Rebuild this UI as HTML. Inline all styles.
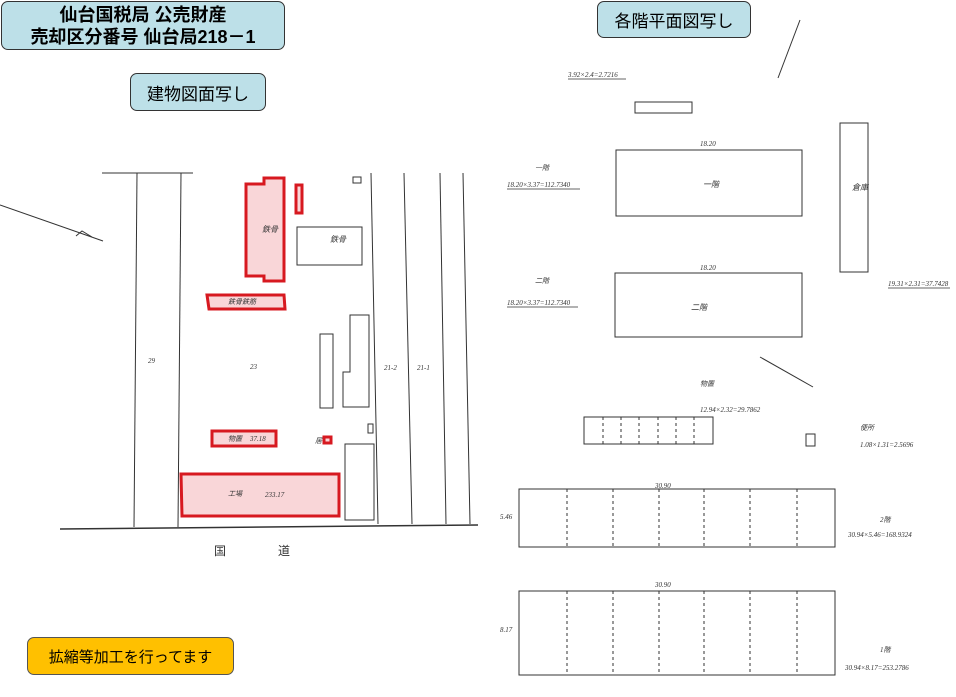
<!DOCTYPE html>
<html><head><meta charset="utf-8"><style>
body{margin:0;width:956px;height:697px;background:#fff;position:relative;overflow:hidden;font-family:"Liberation Sans","Noto Sans CJK JP",sans-serif}
.b{position:absolute;background:#bde0e8;border:1.5px solid #333;border-radius:7px;box-sizing:border-box;display:flex;align-items:center;justify-content:center;text-align:center;color:#000}
svg{position:absolute;left:0;top:0}
svg text{font-family:"Liberation Serif","Noto Sans CJK JP",serif;font-style:italic;fill:#333}
</style></head><body>
<svg width="956" height="697" viewBox="0 0 956 697" stroke="#333" fill="none" stroke-width="1">
<!-- left plan -->
<line x1="102" y1="173" x2="193" y2="173"/>
<line x1="137" y1="173" x2="134" y2="527"/>
<line x1="181" y1="173" x2="178" y2="527"/>
<line x1="0" y1="205" x2="103" y2="241"/>
<path d="M76 236 L82 231 L92 237"/>
<line x1="371" y1="173" x2="378" y2="524"/>
<line x1="404" y1="173" x2="412" y2="524"/>
<line x1="440" y1="173" x2="446" y2="524"/>
<line x1="463" y1="173" x2="470" y2="524"/>
<line x1="60" y1="529" x2="478" y2="525" stroke-width="1.5"/>
<rect x="353" y="177" width="8" height="6"/>
<rect x="297" y="227" width="65" height="38"/>
<rect x="320" y="334" width="13" height="74"/>
<path d="M350 315 H369 V407 H343 V372 H350 Z"/>
<rect x="368" y="424" width="5" height="9"/>
<rect x="345" y="444" width="29" height="76"/>
<g stroke="#d71920" stroke-width="3" fill="#f9d6d8">
<path d="M246 184 H264 V178 H284 V281 H264 V276 H246 Z"/>
<rect x="296" y="185" width="6" height="28"/>
<path d="M207 295 H284 L285 309 H209 Z"/>
<rect x="212" y="431" width="64" height="15"/>
<rect x="324" y="437" width="7" height="6"/>
<path d="M181 474 H339 V516 H182 Z"/>
</g>
<g stroke="none" font-size="7">
<text x="148" y="363">29</text><text x="250" y="369">23</text>
<text x="384" y="370">21-2</text><text x="417" y="370">21-1</text>
<text x="262" y="232" font-size="8">鉄骨</text><text x="330" y="242" font-size="8">鉄骨</text>
<text x="228" y="304">鉄骨鉄筋</text><text x="228" y="441">物置</text><text x="250" y="441">37.18</text>
<text x="228" y="496">工場</text><text x="265" y="497">233.17</text>
<text x="315" y="443">居</text>
</g>
<g stroke="none" font-size="12" font-style="normal"><text x="214" y="555" style="font-style:normal">国</text><text x="278" y="555" style="font-style:normal">道</text></g>
<!-- right sheet -->
<line x1="778" y1="78" x2="800" y2="20"/>
<line x1="760" y1="357" x2="813" y2="387"/>
<rect x="635" y="102" width="57" height="11"/>
<rect x="616" y="150" width="186" height="66"/>
<rect x="615" y="273" width="187" height="64"/>
<rect x="840" y="123" width="28" height="149"/>
<rect x="584" y="417" width="129" height="27"/>
<rect x="519" y="489" width="316" height="58"/>
<rect x="519" y="591" width="316" height="84"/>
<rect x="806" y="434" width="9" height="12"/>
<g stroke-dasharray="3 3">
<path d="M603 417V444M621 417V444M639 417V444M658 417V444M676 417V444M694 417V444"/>
<path d="M567 489V547M613 489V547M659 489V547M704 489V547M750 489V547M797 489V547"/>
<path d="M567 591V675M613 591V675M659 591V675M704 591V675M750 591V675M797 591V675"/>
</g>
<g stroke-width="0.8">
<line x1="568" y1="79" x2="626" y2="79"/><line x1="507" y1="189" x2="580" y2="189"/>
<line x1="507" y1="307" x2="578" y2="307"/><line x1="888" y1="288" x2="950" y2="288"/>
</g>
<g stroke="none" font-size="7">
<text x="568" y="77">3.92×2.4=2.7216</text><text x="507" y="187">18.20×3.37=112.7340</text>
<text x="535" y="170">一階</text><text x="535" y="283">二階</text>
<text x="507" y="305">18.20×3.37=112.7340</text><text x="888" y="286">19.31×2.31=37.7428</text>
<text x="700" y="146">18.20</text><text x="700" y="270">18.20</text>
<text x="700" y="386">物置</text><text x="700" y="412">12.94×2.32=29.7862</text>
<text x="860" y="430">便所</text><text x="860" y="447">1.08×1.31=2.5696</text>
<text x="880" y="522">2階</text><text x="848" y="537">30.94×5.46=168.9324</text>
<text x="880" y="652">1階</text><text x="845" y="670">30.94×8.17=253.2786</text>
<text x="655" y="488">30.90</text><text x="655" y="587">30.90</text>
<text x="500" y="519">5.46</text><text x="500" y="632">8.17</text>
<text x="703" y="187" font-size="8">一階</text><text x="691" y="310" font-size="8">二階</text>
<text x="852" y="190" font-size="8">倉庫</text>
</g>
</svg>
<div class="b" style="left:1px;top:1px;width:284px;height:49px;font-size:18px;font-weight:bold;line-height:22px">仙台国税局 公売財産<br>売却区分番号 仙台局218－1</div>
<div class="b" style="left:130px;top:73px;width:136px;height:38px;font-size:17px">建物図面写し</div>
<div class="b" style="left:597px;top:1px;width:154px;height:37px;font-size:17px">各階平面図写し</div>
<div class="b" style="left:27px;top:637px;width:207px;height:38px;font-size:15px;background:#ffc000;border-color:#555">拡縮等加工を行ってます</div>
</body></html>
